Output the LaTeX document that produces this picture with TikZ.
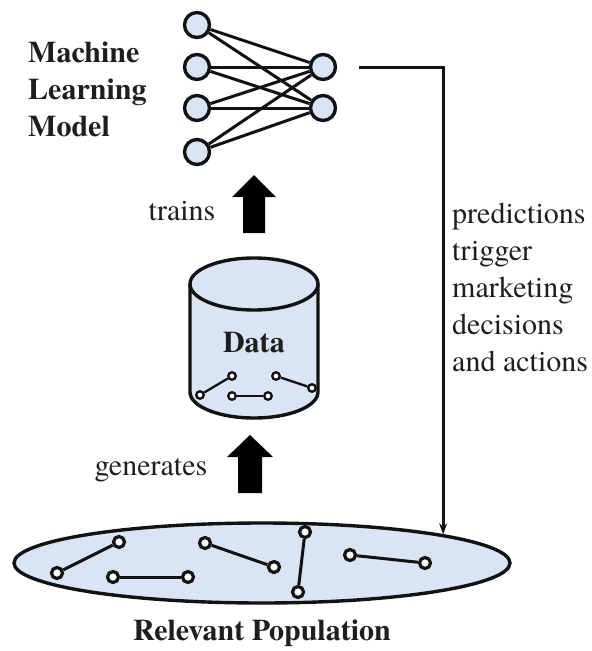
\documentclass[tikz,border=0pt]{standalone}
\usepackage{fontspec}
\setmainfont{texgyretermes}[Extension=.otf,UprightFont=*-regular,BoldFont=*-bold,ItalicFont=*-italic,BoldItalicFont=*-bolditalic]
\usetikzlibrary{shapes.geometric,arrows.meta}
\definecolor{fillc}{HTML}{D9E5F4}
\definecolor{ink}{HTML}{121212}
\definecolor{txt}{HTML}{1E1E1E}
\begin{document}
\begin{tikzpicture}[x=1pt,y=-1pt,
  neuron/.style={circle,draw=ink,line width=3.4pt,fill=fillc,minimum size=25pt,inner sep=0pt},
  bigdot/.style={circle,draw=ink,line width=3.2pt,fill=white,minimum size=11pt,inner sep=0pt},
  smalldot/.style={circle,draw=ink,line width=2.3pt,fill=white,minimum size=7.5pt,inner sep=0pt},
  link/.style={draw=ink,line width=3pt},
  edge/.style={draw=ink,line width=3pt},
  lbl/.style={text=txt,inner sep=0pt,font=\rmfamily\fontsize{30}{37}\selectfont},
  blbl/.style={text=txt,inner sep=0pt,font=\rmfamily\fontsize{30}{37}\selectfont\bfseries},
  blockarrow/.style={fill=black},
]
\useasboundingbox (0,0) rectangle (592,651);

% neural network
\node[neuron] (i1) at (197,25) {};
\node[neuron] (i2) at (197,67) {};
\node[neuron] (i3) at (197,108) {};
\node[neuron] (i4) at (197,152) {};
\node[neuron] (o1) at (323,67) {};
\node[neuron] (o2) at (323,108) {};
\foreach \i in {i1,i2,i3,i4}{
  \foreach \o in {o1,o2}{
    \draw[edge] (\i) -- (\o);
  }
}
\node[blbl,anchor=west,align=left] (mlm) at (28,89) {Machine\\Learning\\Model};

% trains arrow
\node[lbl,anchor=base] (trains) at (182,220) {trains};
\fill[blockarrow] (243,233) -- (243,197) -- (232,197) -- (254,175) -- (276,197) -- (265,197) -- (265,233) -- cycle;

% data cylinder
\fill[fillc] (254,284) ellipse[x radius=64,y radius=26];
\fill[fillc] (190,284) -- (190,392) .. controls (190,406.4) and (218.7,418) .. (254,418)
  .. controls (289.3,418) and (318,406.4) .. (318,392) -- (318,284) -- cycle;
\draw[ink,line width=3.4pt] (254,284) ellipse[x radius=64,y radius=26];
\draw[ink,line width=3.4pt] (190,284) -- (190,392) .. controls (190,406.4) and (218.7,418) .. (254,418)
  .. controls (289.3,418) and (318,406.4) .. (318,392) -- (318,284);
\node[blbl,anchor=base] (data) at (254,352) {Data};
\node[smalldot] (c1) at (200,395) {};
\node[smalldot] (c2) at (232,376) {};
\node[smalldot] (c3) at (232,396) {};
\node[smalldot] (c4) at (268,396) {};
\node[smalldot] (c5) at (276,376) {};
\node[smalldot] (c6) at (312,388) {};
\draw[link,line width=2.3pt] (c1) -- (c2);
\draw[link,line width=2.3pt] (c3) -- (c4);
\draw[link,line width=2.3pt] (c5) -- (c6);

% generates arrow
\node[lbl,anchor=base] (gen) at (151,475) {generates};
\fill[blockarrow] (238,493) -- (238,457) -- (227,457) -- (250,435) -- (273,457) -- (262,457) -- (262,493) -- cycle;

% population
\node[ellipse,draw=ink,line width=3.4pt,fill=fillc,minimum width=496pt,minimum height=80pt,inner sep=0pt] (pop) at (262,563) {};
\node[bigdot] (p1) at (57,573) {};
\node[bigdot] (p2) at (119,542) {};
\node[bigdot] (p3) at (113,577) {};
\node[bigdot] (p4) at (188,577) {};
\node[bigdot] (p5) at (205,543) {};
\node[bigdot] (p6) at (274,567) {};
\node[bigdot] (p7) at (305,532) {};
\node[bigdot] (p8) at (298,592) {};
\node[bigdot] (p9) at (350,555) {};
\node[bigdot] (p10) at (425,563) {};
\draw[link] (p1) -- (p2);
\draw[link] (p3) -- (p4);
\draw[link] (p5) -- (p6);
\draw[link] (p7) -- (p8);
\draw[link] (p9) -- (p10);
\node[blbl,anchor=base] (poplbl) at (262,640) {Relevant Population};

% feedback connector
\coordinate (start) at ([xshift=22pt]o1.east);
\draw[ink,line width=3pt,-{Stealth[length=11pt,width=8pt]}] (start) -| (pop.9.4);
\node[lbl,anchor=west,align=left] (pred) at (452,287) {predictions\\trigger\\marketing\\decisions\\and actions};
\end{tikzpicture}
\end{document}
